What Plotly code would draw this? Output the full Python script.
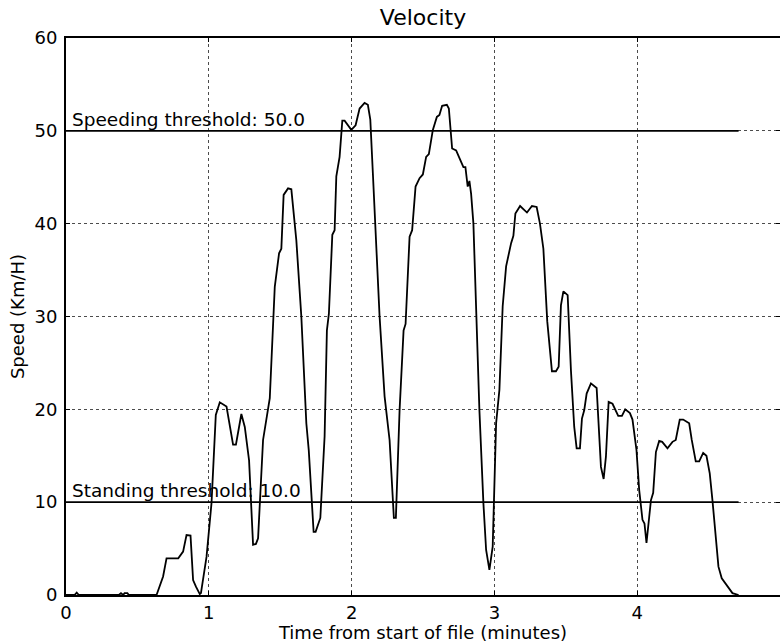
import plotly.graph_objects as go

# ---- data ----
time_min = [0.0, 0.06, 0.075, 0.09, 0.37, 0.385, 0.40, 0.41, 0.43, 0.44, 0.634,
            0.657, 0.68, 0.704, 0.786, 0.82, 0.844, 0.872, 0.89, 0.91, 0.937, 0.945, 0.984,
            1.019, 1.049, 1.077, 1.124, 1.17, 1.19, 1.228, 1.252, 1.282, 1.31, 1.33, 1.345,
            1.38, 1.427, 1.462, 1.492, 1.508, 1.524, 1.555, 1.578, 1.613, 1.648, 1.683, 1.70,
            1.734, 1.748, 1.781, 1.811, 1.827, 1.841, 1.865, 1.881, 1.893, 1.916, 1.935, 1.951,
            1.998, 2.028, 2.056, 2.091, 2.114, 2.131, 2.149, 2.173, 2.196, 2.231, 2.266, 2.296,
            2.310, 2.336, 2.364, 2.378, 2.406, 2.424, 2.448, 2.476, 2.499, 2.522, 2.541, 2.569,
            2.597, 2.615, 2.634, 2.667, 2.681, 2.704, 2.732, 2.76, 2.783, 2.797, 2.813, 2.825,
            2.837, 2.853, 2.872, 2.895, 2.923, 2.942, 2.965, 2.988, 3.012, 3.035, 3.058, 3.082,
            3.117, 3.133, 3.147, 3.18, 3.228, 3.263, 3.296, 3.319, 3.343, 3.37, 3.403, 3.431,
            3.45, 3.466, 3.483, 3.513, 3.536, 3.559, 3.576, 3.599, 3.613, 3.629, 3.646, 3.676,
            3.716, 3.734, 3.746, 3.765, 3.781, 3.80, 3.827, 3.867, 3.893, 3.916, 3.949, 3.967,
            3.995, 4.014, 4.037, 4.051, 4.065, 4.084, 4.096, 4.112, 4.131, 4.154, 4.175, 4.212,
            4.247, 4.27, 4.298, 4.322, 4.364, 4.382, 4.41, 4.434, 4.462, 4.485, 4.508, 4.527,
            4.55, 4.569, 4.592, 4.632, 4.667, 4.71]
speed_kmh = [0, 0, 0.25, 0, 0, 0.2, 0, 0.2, 0.2, 0, 0,
             0.9, 2.0, 3.95, 3.95, 4.67, 6.46, 6.4, 1.6, 0.9, 0.1, 0.2, 4.1,
             9.9, 19.4, 20.76, 20.3, 16.2, 16.2, 19.5, 18.1, 14.5, 5.4, 5.5, 6.1,
             16.7, 21.2, 33.2, 36.8, 37.3, 43.1, 43.8, 43.7, 38.2, 30.0, 18.5, 15.6,
             6.8, 6.8, 8.3, 17.1, 28.5, 30.3, 38.8, 39.3, 45.1, 47.2, 51.1, 51.1,
             50.1, 50.6, 52.4, 53.0, 52.8, 51.2, 45.4, 37.2, 30.0, 21.4, 16.7, 8.3,
             8.3, 19.9, 28.5, 29.2, 38.6, 39.3, 44.0, 44.9, 45.3, 47.2, 47.5, 50.1,
             51.5, 51.7, 52.7, 52.8, 52.4, 48.1, 47.9, 46.9, 46.1, 46.1, 44.0, 44.6,
             43.2, 40.0, 30.0, 19.9, 9.9, 4.85, 2.7, 5.2, 18.5, 22.1, 31.1, 35.4,
             37.9, 38.7, 41.1, 41.9, 41.2, 41.9, 41.8, 40.0, 37.3, 29.5, 24.1, 24.1,
             24.6, 31.2, 32.7, 32.3, 24.2, 18.1, 15.8, 15.8, 19.0, 19.9, 21.7, 22.8,
             22.3, 16.3, 13.8, 12.5, 14.9, 20.8, 20.6, 19.3, 19.3, 20.0, 19.6, 18.9,
             15.6, 11.3, 8.1, 7.7, 5.6, 8.4, 10.2, 11.0, 15.4, 16.6, 16.5, 15.8,
             16.5, 16.7, 18.9, 18.9, 18.5, 16.7, 14.4, 14.4, 15.3, 15.0, 13.1, 10.2,
             5.9, 3.05, 1.8, 0.9, 0.2, 0]

threshold_names = ["Speeding threshold", "Standing threshold"]
threshold_values = [50.0, 10.0]

x_ticks = [0, 1, 2, 3, 4, 5]
y_ticks = [0, 10, 20, 30, 40, 50, 60]

FONT = "DejaVu Sans"
FS = 18

fig = go.Figure()

t_end = max(time_min)
for name, val in zip(threshold_names, threshold_values):
    fig.add_trace(go.Scatter(x=[0, t_end], y=[val, val], mode="lines",
                             line=dict(color="black", width=1.8),
                             hoverinfo="skip", showlegend=False))
    fig.add_annotation(x=0.035, y=val, xref="x", yref="y",
                       text=f"{name}: {val:.1f}", showarrow=False,
                       xanchor="left", yanchor="bottom", borderpad=0,
                       font=dict(family=FONT, size=18.5, color="black"))

fig.add_trace(go.Scatter(x=time_min, y=speed_kmh, mode="lines",
                         line=dict(color="black", width=1.8),
                         showlegend=False, name="Velocity"))

axis_common = dict(
    showline=True, linecolor="black", linewidth=2, mirror="ticks",
    ticks="inside", ticklen=4, tickwidth=1, tickcolor="black",
    showgrid=True, gridcolor="rgba(0,0,0,0.7)", gridwidth=1, griddash="dot",
    zeroline=False, automargin=False,
    tickfont=dict(family=FONT, size=FS, color="black"),
)

fig.update_xaxes(range=[0, 5], tickvals=x_ticks, ticktext=[str(v) for v in x_ticks],
                 title=dict(text="Time from start of file (minutes)",
                            font=dict(family=FONT, size=FS, color="black"), standoff=2),
                 **axis_common)
fig.update_yaxes(range=[0, 60], tickvals=y_ticks, ticktext=[str(v) for v in y_ticks],
                 ticklabelstandoff=3,
                 title=dict(text="Speed (Km/H)",
                            font=dict(family=FONT, size=FS, color="black"), standoff=5),
                 **axis_common)

fig.update_layout(
    width=780, height=643,
    margin=dict(l=66, r=0, t=38, b=48),
    paper_bgcolor="white", plot_bgcolor="white",
    title=dict(text="Velocity", x=0.5, xref="paper", xanchor="center",
               y=1 - 17 / 643, yref="container", yanchor="middle",
               font=dict(family=FONT, size=22, color="black")),
    showlegend=False,
)

fig.write_html("out.html", config={"displayModeBar": False},
               post_script="document.body.style.margin='0';document.body.style.overflow='hidden';")
